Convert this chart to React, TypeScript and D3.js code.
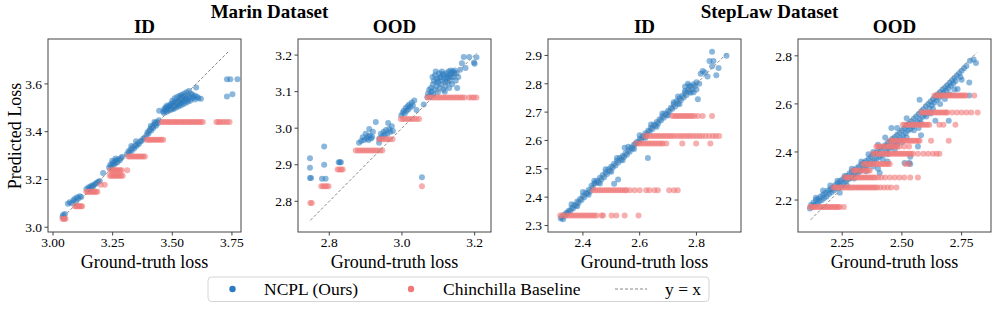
import React from "react";
import * as d3 from "d3";

// ---- data ----
type Pt = [number, number];
type Band = [number, number[]]; // [predicted y, ground-truth xs]

const marinIdNcpl: Pt[] = [
  [3.040,3.045],[3.043,3.052],[3.047,3.040],[3.050,3.055],
  [3.062,3.098],[3.070,3.105],[3.078,3.100],[3.085,3.112],[3.090,3.118],[3.096,3.108],[3.100,3.125],[3.106,3.120],[3.112,3.130],[3.118,3.127],
  [3.140,3.160],[3.148,3.166],[3.152,3.158],[3.156,3.170],[3.160,3.165],[3.164,3.175],[3.168,3.170],[3.172,3.178],[3.178,3.182],[3.184,3.186],[3.190,3.190],[3.196,3.194],
  [3.210,3.227],
  [3.235,3.250],[3.240,3.262],[3.245,3.255],[3.250,3.268],[3.255,3.262],[3.258,3.275],[3.262,3.268],[3.266,3.280],[3.270,3.272],[3.275,3.285],[3.280,3.280],[3.285,3.290],[3.290,3.295],[3.248,3.278],[3.262,3.288],
  [3.310,3.305],[3.316,3.318],[3.320,3.312],[3.325,3.325],[3.330,3.320],[3.335,3.335],[3.340,3.330],[3.345,3.342],[3.350,3.340],[3.355,3.350],[3.360,3.348],[3.366,3.360],[3.372,3.362],[3.378,3.370],[3.384,3.375],[3.328,3.340],[3.348,3.360],
  [3.392,3.385],[3.396,3.398],[3.400,3.392],[3.404,3.405],[3.408,3.412],[3.412,3.405],[3.416,3.420],[3.420,3.415],[3.424,3.428],[3.428,3.435],[3.432,3.425],[3.436,3.440],[3.440,3.435],[3.444,3.448],[3.410,3.425],[3.425,3.440],
  [3.445,3.488],[3.462,3.485],[3.466,3.495],[3.470,3.490],[3.472,3.502],[3.476,3.498],[3.478,3.510],[3.482,3.492],[3.484,3.505],[3.488,3.500],[3.490,3.512],[3.494,3.505],[3.496,3.518],[3.500,3.498],[3.502,3.510],[3.506,3.520],[3.508,3.505],[3.512,3.515],[3.514,3.526],[3.518,3.510],[3.520,3.522],[3.524,3.530],[3.526,3.515],[3.530,3.525],[3.532,3.535],[3.536,3.520],[3.538,3.530],[3.542,3.540],[3.544,3.525],[3.548,3.535],[3.552,3.545],[3.556,3.530],[3.560,3.540],[3.564,3.552],[3.568,3.535],[3.572,3.545],[3.578,3.560],[3.584,3.540],[3.590,3.545],[3.596,3.550],[3.600,3.585],[3.610,3.540],[3.620,3.538],
  [3.465,3.478],[3.475,3.482],[3.485,3.488],[3.495,3.492],[3.505,3.495],[3.515,3.500],[3.525,3.505],[3.535,3.510],[3.545,3.515],[3.555,3.520],[3.565,3.525],[3.575,3.530],[3.500,3.530],[3.510,3.540],[3.520,3.545],[3.530,3.550],[3.540,3.555],[3.550,3.560],[3.560,3.565],[3.570,3.570],[3.545,3.548],[3.535,3.545],[3.585,3.555],[3.595,3.535],[3.605,3.545],
  [3.729,3.547],[3.752,3.557],[3.729,3.620],[3.743,3.620],[3.773,3.620],
];
const marinIdChin: Band[] = [
  [3.035,[3.040,3.044,3.048,3.052]],
  [3.088,[3.092,3.097,3.102,3.107,3.112,3.117,3.122]],
  [3.148,[3.140,3.145,3.150,3.155,3.160,3.165,3.170,3.175,3.180,3.186]],
  [3.178,[3.200,3.217]],
  [3.216,[3.238,3.244,3.250,3.256,3.262,3.268,3.274,3.280,3.286,3.292]],
  [3.238,[3.240,3.246,3.252,3.258,3.264,3.270,3.276,3.282,3.288,3.311]],
  [3.296,[3.315,3.322,3.329,3.336,3.343,3.350,3.357,3.364,3.371,3.378,3.385]],
  [3.366,[3.392,3.399,3.406,3.413,3.420,3.427,3.434,3.441,3.448,3.455,3.462]],
  [3.440,[3.455,3.462,3.470,3.478,3.485,3.492,3.500,3.508,3.515,3.522,3.530,3.538,3.545,3.552,3.560,3.568,3.575,3.582,3.590,3.598,3.605,3.612,3.620,3.628,3.685,3.693,3.700,3.710,3.720,3.730,3.740]],
];

const marinOodNcpl: Pt[] = [
  [2.747,2.918],[2.747,2.892],[2.747,2.864],[2.750,2.864],[2.786,2.950],[2.786,2.900],[2.780,2.862],[2.790,2.862],[2.826,2.907],[2.832,2.907],[2.829,2.907],
  [2.882,2.960],[2.888,2.965],[2.892,2.975],[2.896,2.968],[2.900,2.985],[2.903,2.972],[2.906,2.978],[2.908,2.968],[2.910,2.998],[2.912,2.980],[2.915,2.972],[2.918,2.976],[2.920,2.990],[2.928,3.017],
  [2.937,2.960],[2.938,2.972],[2.942,2.985],[2.946,2.978],[2.950,2.990],[2.953,2.982],[2.956,2.995],[2.960,2.985],[2.962,3.014],[2.965,2.998],[2.968,2.990],[2.972,3.005],[2.975,2.992],
  [2.998,3.035],[3.002,3.042],[3.005,3.048],[3.008,3.040],[3.010,3.055],[3.013,3.048],[3.016,3.060],[3.018,3.052],[3.020,3.065],[3.024,3.058],[3.027,3.070],[3.030,3.062],[3.034,3.076],[3.040,3.050],[3.060,3.065],
  [3.055,2.866],
  [3.070,3.085],[3.072,3.095],[3.075,3.105],[3.078,3.090],[3.080,3.110],[3.082,3.100],[3.085,3.120],[3.086,3.092],[3.088,3.130],[3.090,3.105],[3.091,3.145],[3.093,3.155],[3.095,3.115],[3.097,3.135],[3.099,3.098],[3.100,3.125],[3.102,3.150],[3.104,3.110],[3.106,3.140],[3.108,3.120],[3.110,3.155],[3.112,3.130],[3.114,3.105],[3.116,3.145],[3.118,3.135],[3.120,3.115],[3.122,3.150],[3.124,3.140],[3.126,3.125],[3.128,3.155],[3.130,3.145],[3.132,3.130],[3.134,3.158],[3.136,3.150],[3.138,3.120],[3.140,3.155],[3.142,3.140],[3.145,3.158],[3.148,3.130],[3.150,3.150],[3.152,3.110],[3.155,3.140],[3.160,3.160],[3.165,3.178],[3.170,3.195],[3.175,3.165],[3.185,3.195],[3.198,3.180],[3.205,3.194],[3.200,3.176],
  [3.084,3.140],[3.096,3.128],[3.104,3.138],[3.112,3.148],[3.120,3.128],[3.128,3.138],[3.136,3.140],[3.144,3.150],[3.118,3.100],[3.130,3.110],
];
const marinOodChin: Band[] = [
  [2.795,[2.748,2.752]],
  [2.841,[2.778,2.783,2.788,2.793,2.798,3.055]],
  [2.887,[2.823,2.828,2.833,2.837]],
  [2.939,[2.873,2.879,2.885,2.891,2.897,2.903,2.909,2.915,2.921,2.927,2.933,2.940,2.946]],
  [2.970,[2.937,2.943,2.949,2.955,2.961,2.967,2.974]],
  [3.025,[2.997,3.003,3.009,3.015,3.021,3.027,3.033,3.040,3.047]],
  [3.084,[3.070,3.076,3.082,3.088,3.094,3.100,3.106,3.112,3.118,3.124,3.130,3.136,3.142,3.148,3.154,3.160,3.166,3.172,3.185,3.192,3.198,3.205]],
];

const stepIdNcpl: Pt[] = [
  [2.322,2.325],[2.326,2.330],[2.330,2.322],[2.334,2.338],[2.338,2.335],[2.342,2.345],[2.346,2.342],[2.350,2.352],[2.355,2.350],[2.360,2.362],[2.365,2.360],[2.370,2.372],[2.375,2.370],[2.380,2.385],[2.385,2.380],[2.390,2.393],[2.395,2.390],[2.400,2.405],[2.405,2.400],[2.410,2.415],[2.415,2.412],[2.420,2.425],[2.425,2.420],[2.430,2.440],[2.435,2.432],[2.440,2.448],[2.445,2.450],[2.450,2.458],[2.455,2.452],[2.460,2.468],[2.465,2.462],[2.470,2.478],[2.475,2.470],[2.480,2.488],[2.485,2.482],[2.490,2.498],[2.495,2.492],[2.500,2.508],[2.505,2.505],[2.510,2.518],[2.515,2.512],[2.520,2.528],[2.525,2.522],[2.530,2.538],[2.535,2.532],[2.540,2.545],[2.545,2.542],[2.550,2.555],[2.555,2.550],[2.560,2.565],[2.565,2.560],[2.570,2.575],[2.575,2.572],[2.580,2.585],[2.585,2.588],[2.590,2.595],[2.595,2.592],[2.600,2.605],[2.605,2.602],[2.610,2.615],[2.615,2.612],[2.620,2.625],[2.625,2.620],[2.630,2.635],[2.635,2.632],[2.640,2.645],[2.645,2.640],[2.650,2.655],[2.655,2.652],[2.660,2.665],[2.665,2.660],[2.670,2.675],[2.675,2.670],[2.680,2.685],[2.685,2.680],[2.690,2.695],[2.695,2.690],[2.700,2.705],[2.705,2.700],[2.710,2.715],[2.715,2.712],[2.720,2.728],[2.725,2.720],[2.730,2.738],[2.735,2.730],[2.740,2.748],[2.745,2.742],[2.750,2.758],[2.755,2.752],[2.760,2.768],[2.765,2.760],[2.770,2.778],[2.775,2.772],[2.780,2.790],[2.785,2.780],[2.790,2.798],[2.795,2.792],[2.800,2.805],
  [2.360,2.375],[2.400,2.418],[2.440,2.458],[2.480,2.498],[2.520,2.538],[2.560,2.578],[2.600,2.618],[2.640,2.656],[2.680,2.695],[2.720,2.735],[2.760,2.775],[2.380,2.368],[2.420,2.408],[2.460,2.448],[2.500,2.490],[2.540,2.530],[2.580,2.570],[2.620,2.610],[2.660,2.648],[2.700,2.688],[2.740,2.728],[2.780,2.768],
  [2.524,2.462],[2.510,2.447],[2.547,2.574],[2.629,2.538],[2.855,2.913],[2.846,2.880],[2.855,2.862],[2.878,2.856],[2.906,2.899],[2.822,2.845],[2.839,2.826],[2.805,2.745],[2.775,2.793],
  [2.735,2.755],[2.760,2.790],[2.770,2.800],[2.790,2.770],[2.800,2.780],[2.810,2.800],[2.815,2.835],[2.830,2.840],[2.860,2.880],[2.870,2.830],
];
const stepIdChin: Band[] = [
  [2.335,[2.320,2.328,2.336,2.344,2.352,2.360,2.368,2.376,2.384,2.392,2.400,2.408,2.416,2.424,2.432,2.440,2.448,2.466,2.471,2.501,2.518,2.547,2.596]],
  [2.424,[2.436,2.444,2.452,2.460,2.468,2.476,2.484,2.492,2.500,2.508,2.516,2.524,2.532,2.540,2.548,2.553,2.565,2.582,2.600,2.623,2.634,2.652,2.664,2.704,2.721,2.734]],
  [2.589,[2.588,2.596,2.604,2.612,2.620,2.628,2.636,2.644,2.652,2.660,2.668,2.676,2.682,2.694,2.750,2.799,2.849]],
  [2.616,[2.618,2.626,2.634,2.642,2.650,2.658,2.666,2.674,2.682,2.690,2.698,2.706,2.714,2.723,2.733,2.743,2.752,2.762,2.771,2.780,2.790,2.800,2.810,2.820,2.832,2.845,2.858,2.868,2.880]],
  [2.686,[2.715,2.722,2.729,2.736,2.743,2.750,2.757,2.764,2.771,2.778,2.785,2.793,2.805,2.822,2.855]],
];

const stepOodNcpl: Pt[] = [
  [2.115,2.165],[2.120,2.180],[2.125,2.172],[2.130,2.190],[2.135,2.178],[2.140,2.200],[2.145,2.185],[2.150,2.205],[2.155,2.195],[2.160,2.215],[2.165,2.200],[2.170,2.222],[2.175,2.208],[2.180,2.230],[2.185,2.215],[2.190,2.240],[2.195,2.225],[2.200,2.245],[2.205,2.232],[2.210,2.252],[2.215,2.240],[2.220,2.262],[2.225,2.248],[2.230,2.270],[2.235,2.255],[2.240,2.278],[2.245,2.262],[2.250,2.285],[2.255,2.270],[2.260,2.292],[2.265,2.278],[2.270,2.300],[2.275,2.285],[2.280,2.310],[2.285,2.292],[2.290,2.318],[2.295,2.300],[2.300,2.325],[2.305,2.308],[2.310,2.332],[2.315,2.312],[2.320,2.340],[2.325,2.320],[2.330,2.348],[2.335,2.328],[2.340,2.355],[2.345,2.335],[2.350,2.362],[2.355,2.342],[2.360,2.370],[2.365,2.350],[2.370,2.380],[2.375,2.358],[2.380,2.388],[2.385,2.365],[2.390,2.395],[2.395,2.372],[2.400,2.405],[2.405,2.380],[2.410,2.412],[2.415,2.388],[2.420,2.420],[2.425,2.395],[2.430,2.428],[2.435,2.405],[2.440,2.438],[2.445,2.412],[2.450,2.445],[2.455,2.420],[2.460,2.455],[2.465,2.430],[2.470,2.462],[2.475,2.440],[2.480,2.472],[2.485,2.450],[2.490,2.480],[2.495,2.458],[2.500,2.490],[2.505,2.468],[2.510,2.498],[2.515,2.478],[2.520,2.508],[2.525,2.488],[2.530,2.518],[2.535,2.495],[2.540,2.528],[2.545,2.505],[2.550,2.538],[2.555,2.515],[2.560,2.548],[2.565,2.525],[2.570,2.558],[2.575,2.535],[2.580,2.568],[2.585,2.545],[2.590,2.578],[2.595,2.555],[2.600,2.590],[2.605,2.565],[2.610,2.600],[2.615,2.580],[2.620,2.610],[2.625,2.595],[2.630,2.620],[2.635,2.605],[2.640,2.630],[2.645,2.615],[2.650,2.640],[2.655,2.625],[2.660,2.650],[2.665,2.635],[2.670,2.660],[2.675,2.645],[2.680,2.668],[2.685,2.655],[2.690,2.678],[2.695,2.665],[2.700,2.688],[2.705,2.675],[2.710,2.698],[2.715,2.685],[2.720,2.708],[2.725,2.695],[2.730,2.718],[2.740,2.728],[2.745,2.712],[2.750,2.738],[2.760,2.748],[2.770,2.758],[2.785,2.780],[2.800,2.785],[2.810,2.770],
  [2.140,2.210],[2.170,2.240],[2.200,2.260],[2.230,2.280],[2.260,2.300],[2.290,2.330],[2.330,2.360],[2.360,2.390],[2.400,2.430],[2.430,2.460],[2.480,2.500],
  [2.240,2.230],[2.270,2.260],[2.300,2.290],[2.350,2.320],[2.380,2.340],[2.420,2.370],[2.440,2.390],[2.470,2.410],[2.480,2.430],[2.500,2.440],[2.520,2.460],[2.550,2.490],[2.570,2.500],[2.580,2.520],[2.620,2.560],[2.630,2.580],[2.660,2.600],[2.680,2.620],[2.700,2.640],[2.720,2.660],[2.750,2.700],
  [2.782,2.689],[2.782,2.635],[2.696,2.530],[2.511,2.354],[2.530,2.355],[2.535,2.350],[2.407,2.312],[2.574,2.617],[2.456,2.500],[2.602,2.548],[2.567,2.423],[2.733,2.662],[2.380,2.400],[2.520,2.540],
  [2.535,2.380],[2.580,2.470],[2.640,2.530],[2.440,2.360],[2.400,2.330],
];
const stepOodChin: Band[] = [
  [2.171,[2.115,2.122,2.129,2.136,2.143,2.150,2.157,2.164,2.171,2.178,2.185,2.192,2.199,2.206,2.213,2.220,2.227,2.234,2.240,2.257]],
  [2.252,[2.213,2.221,2.229,2.237,2.245,2.253,2.261,2.269,2.277,2.285,2.293,2.301,2.309,2.317,2.325,2.333,2.341,2.349,2.357,2.365,2.373,2.381,2.389,2.397,2.410,2.425,2.440,2.455,2.477]],
  [2.294,[2.261,2.269,2.277,2.285,2.293,2.301,2.309,2.317,2.325,2.333,2.341,2.349,2.357,2.365,2.373,2.381,2.389,2.400,2.414,2.430,2.450,2.470,2.490,2.510,2.535,2.567]],
  [2.323,[2.296,2.304,2.312,2.320,2.328,2.336,2.344,2.352,2.360,2.365]],
  [2.350,[2.338,2.346,2.354,2.362,2.370,2.378,2.386,2.394,2.402,2.410,2.418,2.426,2.434,2.442,2.449,2.515,2.529]],
  [2.393,[2.379,2.387,2.395,2.403,2.411,2.419,2.427,2.435,2.443,2.451,2.459,2.467,2.475,2.483,2.491,2.499,2.507,2.515,2.523,2.531,2.539,2.546,2.567,2.590,2.610,2.630,2.645,2.657]],
  [2.423,[2.393,2.401,2.409,2.417,2.425,2.433,2.441,2.449,2.457,2.465,2.473,2.481,2.490,2.510,2.530]],
  [2.447,[2.449,2.457,2.465,2.473,2.481,2.489,2.497,2.505,2.513,2.521,2.529,2.537,2.545,2.553,2.561,2.569,2.574,2.622,2.696]],
  [2.513,[2.504,2.512,2.520,2.528,2.536,2.544,2.552,2.560,2.568,2.576,2.584,2.592,2.600,2.608,2.615,2.657,2.674,2.724]],
  [2.564,[2.581,2.589,2.597,2.605,2.613,2.621,2.629,2.637,2.645,2.653,2.661,2.669,2.677,2.685,2.690,2.710,2.730,2.750,2.770,2.790,2.817]],
  [2.635,[2.636,2.643,2.650,2.657,2.664,2.671,2.678,2.685,2.692,2.699,2.706,2.713,2.720,2.727,2.734,2.741,2.748,2.755,2.762,2.768,2.803]],
];

const groupTitles = ["Marin Dataset", "StepLaw Dataset"];
const panelTitles = ["ID", "OOD", "ID", "OOD"];
const xDomains = [[2.979, 3.788], [2.714, 3.245], [2.277, 2.957], [2.065, 2.873]];
const yDomains = [[2.980, 3.788], [2.716, 3.244], [2.277, 2.958], [2.067, 2.870]];
const xTicks = [[3.0, 3.25, 3.5, 3.75], [2.8, 3.0, 3.2], [2.4, 2.6, 2.8], [2.25, 2.5, 2.75]];
const yTicks = [[3.0, 3.2, 3.4, 3.6], [2.8, 2.9, 3.0, 3.1, 3.2], [2.3, 2.4, 2.5, 2.6, 2.7, 2.8, 2.9], [2.2, 2.4, 2.6, 2.8]];
const xFormats = [".2f", ".1f", ".1f", ".2f"];
const diagRanges = [[3.044, 3.734], [2.748, 3.206], [2.326, 2.909], [2.118, 2.813]];
const ncplSets = [marinIdNcpl, marinOodNcpl, stepIdNcpl, stepOodNcpl];
const chinSets = [marinIdChin, marinOodChin, stepIdChin, stepOodChin];
const legendLabels = ["NCPL (Ours)", "Chinchilla Baseline", "y = x"];

// ---- style ----
const W = 997, H = 316;
const FONT = "'Liberation Serif', 'Times New Roman', serif";
const BLUE = "#2c7bc0";
const RED = "#f07878";
const panelLeft = [48, 298, 548, 798];
const panelTop = 39, panelSize = 193;

const Panel = ({ i }: { i: number }) => {
  const x0 = panelLeft[i];
  const x = d3.scaleLinear().domain(xDomains[i]).range([x0, x0 + panelSize]);
  const y = d3.scaleLinear().domain(yDomains[i]).range([panelTop + panelSize, panelTop]);
  const fx = d3.format(xFormats[i]);
  const fy = d3.format(".1f");
  const clipId = `clip${i}`;
  const bottom = panelTop + panelSize;
  const chinPts: Pt[] = chinSets[i].flatMap(([yy, xs]) => xs.map((xx) => [xx, yy] as Pt));
  const [d0, d1] = diagRanges[i];
  return (
    <g>
      <clipPath id={clipId}>
        <rect x={x0} y={panelTop} width={panelSize} height={panelSize} />
      </clipPath>
      <g clipPath={`url(#${clipId})`}>
        {ncplSets[i].map(([a, b], k) => (
          <circle key={"b" + k} cx={x(a)} cy={y(b)} r={3} fill={BLUE} fillOpacity={0.55} />
        ))}
        {chinPts.map(([a, b], k) => (
          <circle key={"r" + k} cx={x(a)} cy={y(b)} r={3} fill={RED} fillOpacity={0.6} />
        ))}
        <line x1={x(d0)} y1={y(d0)} x2={x(d1)} y2={y(d1)} stroke="#888" strokeWidth={1} strokeDasharray="3,2" />
      </g>
      <rect x={x0} y={panelTop} width={panelSize} height={panelSize} fill="none" stroke="#444" strokeWidth={1} />
      {xTicks[i].map((t) => (
        <g key={"x" + t}>
          <line x1={x(t)} x2={x(t)} y1={bottom} y2={bottom + 3.5} stroke="#444" />
          <text x={x(t)} y={bottom + 15} textAnchor="middle" fontSize={13.5} fontFamily={FONT}>{fx(t)}</text>
        </g>
      ))}
      {yTicks[i].map((t) => (
        <g key={"y" + t}>
          <line x1={x0 - 3.5} x2={x0} y1={y(t)} y2={y(t)} stroke="#444" />
          <text x={x0 - 6} y={y(t)} dy="0.35em" textAnchor="end" fontSize={13.5} fontFamily={FONT}>{fy(t)}</text>
        </g>
      ))}
      <text x={x0 + panelSize / 2} y={33} textAnchor="middle" fontSize={19} fontWeight="bold" fontFamily={FONT}>{panelTitles[i]}</text>
      <text x={x0 + panelSize / 2} y={268} textAnchor="middle" fontSize={18} fontFamily={FONT}>Ground-truth loss</text>
    </g>
  );
};

export default function App() {
  const ly = 289;
  return (
    <svg width={W} height={H} style={{ position: "absolute", left: 0, top: 0, background: "#fff" }}>
      {groupTitles.map((t, g) => (
        <text key={t} x={(panelLeft[g * 2] + panelLeft[g * 2 + 1] + panelSize) / 2} y={18} textAnchor="middle" fontSize={19} fontWeight="bold" fontFamily={FONT}>{t}</text>
      ))}
      {[0, 1, 2, 3].map((i) => <Panel key={i} i={i} />)}
      <text transform={`translate(21,136) rotate(-90)`} textAnchor="middle" fontSize={18} fontFamily={FONT}>Predicted Loss</text>
      <g>
        <rect x={208} y={277} width={501} height={24.5} rx={3.5} fill="#fff" stroke="#d4d4d4" strokeWidth={1} />
        <circle cx={232.5} cy={ly} r={3.2} fill={BLUE} />
        <text x={264} y={ly + 6} fontSize={17.5} fontFamily={FONT}>{legendLabels[0]}</text>
        <circle cx={411} cy={ly} r={3.2} fill={RED} />
        <text x={443} y={ly + 6} fontSize={17.5} fontFamily={FONT}>{legendLabels[1]}</text>
        <line x1={615} x2={647} y1={ly} y2={ly} stroke="#888" strokeDasharray="3,2" />
        <text x={665} y={ly + 6} fontSize={17.5} fontFamily={FONT}>{legendLabels[2]}</text>
      </g>
    </svg>
  );
}
